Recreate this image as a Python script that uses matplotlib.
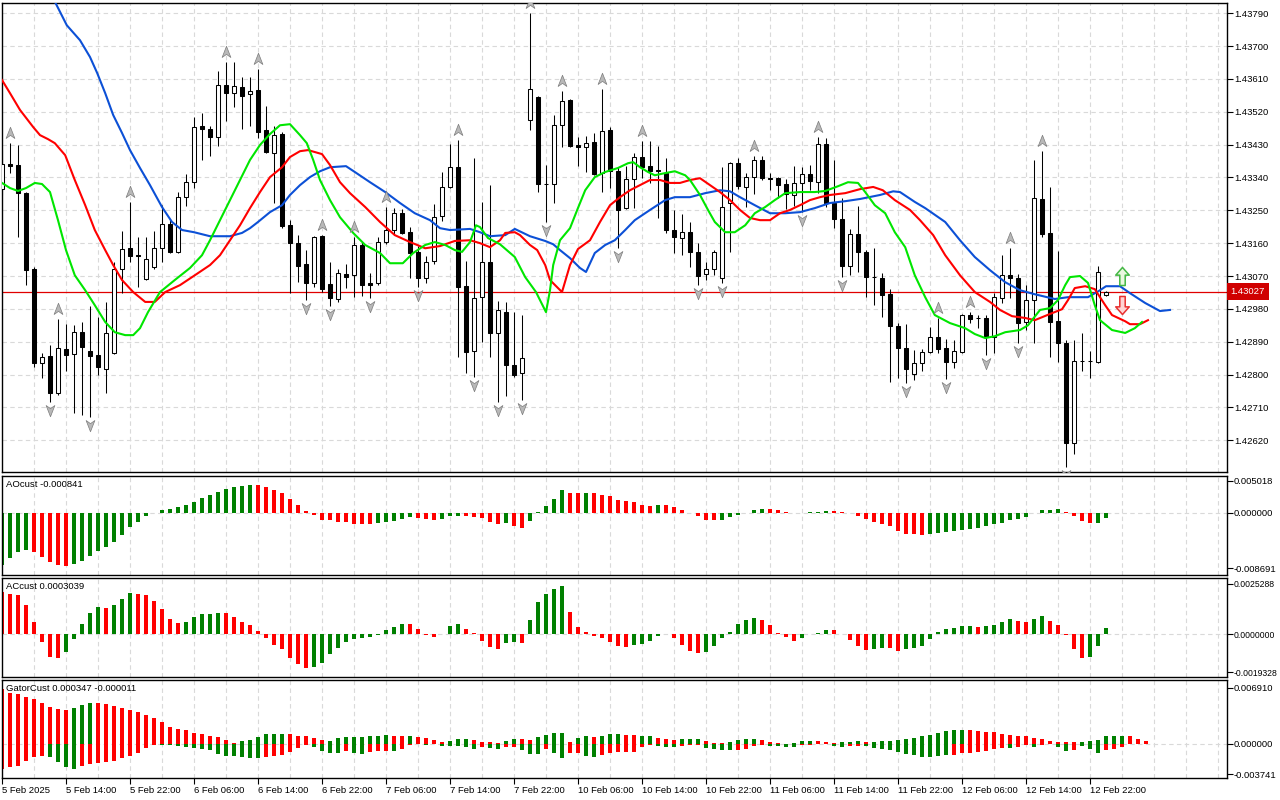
import numpy as np
import matplotlib
matplotlib.use("Agg")
import matplotlib.pyplot as plt
from matplotlib.path import Path

# hourly bars, prices in points (1 point = 0.00001)
opens = [
    143308, 143376, 143374, 143297, 143089, 142831, 142851, 142749, 142870, 142856,
    142916, 142864, 142853, 142815, 142859, 143089, 143146, 143128, 143062, 143094,
    143146, 143212, 143136, 143286, 143327, 143481, 143473, 143451, 143593, 143571,
    143588, 143568, 143579, 143470, 143407, 143459, 143209, 143160, 143103, 143051,
    143179, 143048, 143007, 143075, 143072, 143155, 143051, 143051, 143163, 143196,
    143242, 143190, 143136, 143064, 143111, 143234, 143314, 143368, 143042, 142864,
    143012, 143108, 142914, 142971, 142826, 142804, 143497, 143560, 143323, 143322,
    143483, 143552, 143429, 143423, 143437, 143352, 143470, 143357, 143256, 143336,
    143396, 143371, 143361, 143352, 143196, 143174, 143190, 143136, 143075, 143089,
    143064, 143270, 143379, 143314, 143341, 143388, 143339, 143338, 143322, 143292,
    143325, 143349, 143327, 143431, 143270, 143226, 143097, 143185, 143136, 143068,
    143064, 143020, 142933, 142872, 142801, 142831, 142862, 142903, 142872, 142834,
    142862, 142963, 142956, 142955, 142903, 143009, 143072, 143064, 142944, 143004,
    143281, 143188, 142946, 142886, 142612, 142838, 142836, 142834, 143018]
highs = [
    143415, 143434, 143429, 143300, 143094, 142859, 142881, 142952, 142938, 142935,
    142944, 142988, 142957, 142999, 143108, 143193, 143273, 143177, 143177, 143193,
    143264, 143226, 143300, 143349, 143505, 143516, 143481, 143631, 143656, 143656,
    143615, 143615, 143637, 143536, 143481, 143464, 143223, 143182, 143141, 143180,
    143182, 143108, 143089, 143103, 143177, 143163, 143078, 143177, 143259, 143256,
    143253, 143204, 143152, 143125, 143267, 143355, 143431, 143442, 143111, 143393,
    143273, 143319, 143001, 142999, 142971, 142963, 143790, 143563, 143374, 143511,
    143577, 143555, 143451, 143453, 143462, 143582, 143478, 143368, 143371, 143407,
    143440, 143440, 143426, 143393, 143251, 143240, 143218, 143160, 143108, 143141,
    143368, 143382, 143393, 143352, 143399, 143399, 143352, 143340, 143336, 143371,
    143368, 143374, 143451, 143448, 143388, 143283, 143199, 143262, 143141, 143146,
    143078, 143034, 142941, 142938, 142867, 142870, 142930, 142955, 142897, 142894,
    142966, 142971, 142963, 142963, 143023, 143127, 143146, 143075, 143045, 143388,
    143412, 143314, 143138, 142894, 142894, 142914, 142864, 143097, 143030]
lows = [
    143292, 143352, 143177, 143045, 142820, 142790, 142725, 142745, 142809, 142694,
    142689, 142683, 142798, 142749, 142855, 143023, 143108, 143040, 143059, 143089,
    143108, 143133, 143133, 143262, 143311, 143388, 143399, 143426, 143494, 143533,
    143473, 143481, 143448, 143407, 143270, 143201, 143023, 143053, 143004, 143040,
    143026, 142988, 142999, 143037, 143012, 143015, 143009, 143045, 143157, 143182,
    143185, 143064, 143040, 143051, 143103, 143220, 143310, 142848, 142804, 142793,
    142889, 142848, 142725, 142741, 142793, 142730, 143470, 143300, 143218, 143270,
    143423, 143423, 143371, 143355, 143346, 143300, 143311, 143146, 143253, 143256,
    143338, 143325, 143229, 143188, 143133, 143127, 143094, 143045, 143059, 143072,
    143051, 143136, 143308, 143259, 143294, 143333, 143305, 143283, 143253, 143262,
    143245, 143305, 143297, 143259, 143201, 143067, 143072, 143081, 143012, 142990,
    142957, 142779, 142790, 142777, 142785, 142809, 142859, 142859, 142788, 142818,
    142859, 142941, 142927, 142853, 142859, 142996, 143009, 142886, 142922, 142886,
    143177, 142848, 142834, 142546, 142582, 142809, 142790, 142831, 143016]
closes = [
    143377, 143372, 143297, 143086, 142831, 142848, 142749, 142872, 142853, 142916,
    142875, 142851, 142820, 142914, 143089, 143144, 143125, 143126, 143116, 143146,
    143212, 143136, 143286, 143327, 143478, 143473, 143451, 143593, 143571, 143590,
    143563, 143577, 143464, 143410, 143456, 143207, 143160, 143097, 143051, 143177,
    143034, 143009, 143078, 143067, 143155, 143045, 143045, 143163, 143196, 143242,
    143188, 143133, 143064, 143108, 143231, 143314, 143368, 143040, 142862, 143009,
    143108, 142914, 142977, 142826, 142798, 142845, 143582, 143322, 143321, 143483,
    143549, 143426, 143423, 143434, 143349, 143467, 143357, 143251, 143336, 143396,
    143368, 143357, 143359, 143196, 143177, 143190, 143136, 143070, 143089, 143136,
    143259, 143379, 143316, 143341, 143388, 143338, 143337, 143319, 143294, 143325,
    143349, 143330, 143431, 143270, 143226, 143097, 143185, 143136, 143067, 143066,
    143018, 142933, 142872, 142815, 142831, 142862, 142903, 142870, 142834, 142864,
    142963, 142952, 142954, 142903, 143012, 143072, 143064, 142941, 143004, 143283,
    143185, 142944, 142886, 142612, 142837, 142836, 142838, 143081, 143027]

# alligator lines: bar position, price in points
jaw_x = [6.0, 8.1, 9.75, 11.0, 11.9, 12.9, 13.9, 15.0, 16.0, 17.25, 18.5, 20.0, 21.25,
         22.5, 24.0, 26.0, 28.5, 30.0, 31.0, 32.0, 33.5, 35.0, 36.0, 37.25, 38.5, 39.75,
         41.0, 43.0, 44.1, 46.0, 47.9, 49.75, 51.6, 53.5, 54.75, 56.0, 58.5, 59.75, 61.0,
         62.9, 64.1, 66.0, 67.9, 68.9, 69.75, 71.0, 72.25, 73.0, 74.1, 75.4, 76.6, 77.9,
         79.1, 81.0, 82.9, 84.1, 86.0, 87.9, 89.75, 91.0, 92.25, 94.1, 96.0, 97.9, 99.75,
         101.6, 103.5, 105.4, 107.25, 109.75, 111.4, 112.25, 114.1, 115.4, 117.9, 119.75,
         121.6, 123.5, 125.4, 127.25, 129.1, 131.6, 133.25, 135.75, 137.25, 138.0, 139.75,
         141.0, 142.9, 144.75, 146.0]
jaw_y = [143848, 143757, 143716, 143670, 143626, 143571, 143511, 143462, 143415, 143366,
         143319, 143259, 143218, 143196, 143190, 143179, 143179, 143188, 143201, 143218,
         143245, 143264, 143292, 143319, 143341, 143357, 143368, 143371, 143355, 143327,
         143300, 143270, 143242, 143223, 143201, 143196, 143199, 143190, 143179, 143182,
         143199, 143179, 143166, 143157, 143141, 143119, 143092, 143081, 143133, 143155,
         143168, 143196, 143223, 143251, 143278, 143286, 143286, 143297, 143305, 143302,
         143286, 143264, 143242, 143242, 143245, 143256, 143270, 143275, 143281, 143292,
         143302, 143300, 143273, 143256, 143218, 143168, 143122, 143086, 143053, 143031,
         143020, 143007, 143012, 143012, 143031, 143042, 143042, 143023, 142996, 142974,
         142977]
teeth_x = [0.0, 1.0, 2.25, 3.9, 4.75, 5.75, 6.6, 7.9, 9.1, 10.4, 11.6, 12.9, 13.9, 15.0,
           16.4, 17.9, 19.1, 20.4, 22.25, 24.1, 26.0, 27.25, 28.5, 29.75, 31.0, 32.25,
           33.5, 35.0, 36.0, 37.25, 38.25, 40.0, 41.0, 42.25, 43.5, 45.4, 47.25, 49.1,
           51.0, 52.9, 54.75, 56.6, 58.5, 59.75, 61.0, 62.25, 62.9, 64.1, 64.75, 66.0,
           66.9, 67.9, 68.5, 70.0, 71.0, 72.0, 73.5, 74.75, 76.0, 77.25, 78.5, 79.75,
           81.0, 82.25, 83.5, 84.75, 86.0, 87.25, 88.5, 89.75, 91.0, 92.25, 93.5, 94.75,
           96.0, 97.25, 98.5, 99.75, 101.0, 102.25, 103.5, 105.4, 107.25, 108.9, 110.1,
           111.6, 113.5, 114.75, 116.4, 117.9, 119.75, 121.6, 123.5, 124.75, 126.25,
           127.9, 129.1, 131.0, 132.5, 133.25, 134.1, 135.4, 136.6, 137.9, 138.75, 140.4,
           141.0, 142.25, 143.25]
teeth_y = [143607, 143571, 143525, 143478, 143456, 143445, 143434, 143401, 143333, 143264,
           143196, 143141, 143100, 143059, 143026, 142999, 142999, 143026, 143045, 143072,
           143100, 143127, 143168, 143209, 143256, 143300, 143341, 143368, 143396, 143412,
           143415, 143404, 143374, 143327, 143297, 143259, 143218, 143182, 143163, 143146,
           143152, 143166, 143168, 143160, 143149, 143168, 143188, 143190, 143182, 143155,
           143141, 143100, 143059, 143026, 143100, 143144, 143168, 143218, 143264, 143286,
           143305, 143319, 143333, 143333, 143325, 143325, 143333, 143338, 143319, 143300,
           143278, 143251, 143229, 143223, 143223, 143242, 143251, 143264, 143278, 143286,
           143292, 143297, 143308, 143314, 143305, 143278, 143251, 143223, 143182, 143127,
           143072, 143026, 142999, 142977, 142960, 142955, 142949, 142966, 142979, 143004,
           143037, 143042, 143034, 142990, 142963, 142946, 142938, 142938, 142949]
lips_x = [0.0, 1.0, 2.0, 3.0, 4.1, 5.0, 6.0, 7.0, 8.0, 9.1, 10.4, 11.6, 12.9, 14.1, 15.4,
          16.4, 17.25, 18.25, 19.75, 21.6, 23.5, 25.0, 26.0, 27.25, 28.5, 29.75, 31.0,
          32.25, 33.5, 34.75, 36.0, 37.25, 38.1, 38.9, 39.75, 41.0, 42.25, 43.9, 45.4,
          47.25, 48.5, 50.1, 51.4, 52.9, 54.1, 55.4, 56.6, 57.5, 58.5, 59.25, 59.75,
          60.75, 62.25, 64.1, 65.4, 66.75, 68.0, 68.5, 68.9, 69.75, 71.0, 71.9, 72.9,
          74.1, 75.4, 77.0, 78.25, 78.9, 79.75, 80.75, 81.6, 82.9, 84.1, 85.4, 86.0,
          87.25, 88.25, 89.1, 90.4, 91.6, 92.9, 94.1, 95.4, 96.6, 97.9, 99.75, 101.6,
          102.9, 104.5, 105.75, 107.0, 107.9, 109.1, 110.4, 111.6, 112.9, 114.1, 115.4,
          116.6, 118.5, 120.4, 121.6, 122.9, 124.1, 125.4, 127.25, 128.25, 129.75, 131.0,
          132.0, 132.9, 133.5, 134.75, 135.75, 136.6, 137.25, 138.75, 140.4, 141.6, 142.5]
lips_y = [143325, 143311, 143303, 143311, 143325, 143322, 143300, 143223, 143141, 143072,
          143031, 142990, 142944, 142916, 142908, 142908, 142927, 142971, 143026, 143059,
          143092, 143127, 143168, 143223, 143278, 143333, 143388, 143429, 143459, 143483,
          143486, 143456, 143434, 143388, 143333, 143278, 143231, 143188, 143155, 143133,
          143105, 143105, 143133, 143155, 143163, 143155, 143141, 143136, 143163, 143209,
          143204, 143174, 143157, 143122, 143067, 143026, 142971, 143031, 143100, 143168,
          143201, 143251, 143305, 143341, 143355, 143366, 143379, 143382, 143368, 143355,
          143346, 143352, 143357, 143346, 143333, 143292, 143251, 143218, 143190, 143190,
          143209, 143242, 143259, 143278, 143297, 143300, 143300, 143303, 143316, 143327,
          143325, 143300, 143264, 143242, 143190, 143149, 143072, 143012, 142963, 142941,
          142927, 142911, 142900, 142905, 142916, 142922, 142935, 142977, 142982, 143004,
          143045, 143067, 143070, 143051, 142990, 142949, 142922, 142914, 142927, 142944]

# fractal bars and the last signal
fractal_up = [1, 7, 16, 28, 32, 40, 44, 48, 57, 66, 70, 75, 80, 94, 102, 117, 121, 126, 130]
fractal_dn = [6, 11, 38, 41, 46, 52, 59, 62, 65, 68, 77, 87, 90, 100, 105, 113, 118, 123,
              127, 133]
signal_bar = 140
signal_buy = 143070
signal_sell = 142990
bid = 143027

# oscillators in millionths
ao = [-8184, -7045, -6112, -5853, -6112, -6889, -7666, -8184, -8288, -8081,
      -7511, -6734, -5957, -5335, -4558, -3471, -2227, -1450, -518, -52,
      518, 540, 881, 1295, 1761, 2331, 2849, 3315, 3781, 4144,
      4248, 4403, 4351, 4144, 3626, 3108, 2176, 1295, 363, -259,
      -1036, -1088, -1450, -1470, -1709, -1730, -1761, -1658, -1450, -1295,
      -932, -673, -829, -932, -1088, -932, -518, -414, -518, -570,
      -829, -1450, -1709, -1658, -2072, -2383, -1191, 104, 1140, 2176,
      3626, 3160, 3108, 3170, 3110, 2849, 2590, 2072, 1813, 1658,
      1295, 1140, 1295, 1243, 984, 518, -52, -518, -1036, -1088,
      -1036, -673, -363, 52, 518, 673, 622, 466, 104, -52,
      52, 155, 207, 311, 259, 104, -52, -414, -932, -1450,
      -1813, -2072, -2849, -3263, -3367, -3471, -3367, -3160, -3056, -2901,
      -2745, -2538, -2331, -2072, -1813, -1554, -1036, -932, -570, -52,
      466, 518, 673, 207, -414, -1295, -1606, -1554, -841]
ao_colors = ("GGGG" "RRRRR" "GGGGGGGGGGGGGGGGGGGGGGG" "RRRRRRRRRRRRRRR" "GGGGG" "RRR"
             "GGG" "RRRRR" "G" "RR" "GGGGG" "RR" "G" "RRRRRRRR" "G" "RRRRRRR" "GGGGGG"
             "RRRR" "GGGG" "RRRRRRRRRRRR" "GGGGGGGGGGGGGGGGG" "RRRR" "GG")
ac = [2100, 2016, 1966, 1462, 605, -386, -1142, -1193, -890, -235,
      504, 1075, 1361, 1310, 1462, 1764, 2066, 2016, 1966, 1663,
      1260, 773, 554, 605, 874, 991, 1008, 1058, 1050, 857,
      605, 454, 151, -185, -554, -756, -1193, -1512, -1697, -1646,
      -1462, -1008, -689, -386, -269, -218, -134, -34, 218, 353,
      504, 496, 269, -67, -134, -17, 403, 504, 269, 50,
      -336, -638, -739, -437, -403, -437, 706, 1613, 2016, 2251,
      2419, 1109, 353, 84, -101, -185, -386, -588, -638, -538,
      -487, -336, -84, -17, -218, -538, -857, -941, -890, -588,
      -185, 118, 504, 722, 806, 722, 454, 34, -168, -336,
      -218, 17, 67, 202, 185, -17, -319, -588, -790, -773,
      -706, -722, -840, -756, -722, -588, -235, 101, 235, 319,
      403, 420, 353, 403, 454, 588, 756, 672, 605, 756,
      907, 672, 454, -67, -756, -1193, -1142, -588, 304]
ac_colors = ("RRRRRRRR" "GGGGG" "R" "GGG" "RRRRRR" "GGGGG" "RRRRRRRRRRR" "GGGGGGGGGGGG"
             "RRRR" "GGG" "RRRRR" "GG" "R" "GGGGG" "RRRRRRRR" "GGGGG" "RRRR" "GGGGGGG"
             "RRRRR" "GGGG" "RRRRR" "GG" "RR" "GGGGGGGGG" "R" "GGGG" "RR" "GG" "RRRRR"
             "GGG")
gator_up = [6691, 6202, 6161, 5753, 5467, 5059, 4529, 4243, 4162, 4406,
            4774, 5018, 5010, 4896, 4610, 4406, 4121, 3917, 3509, 3182,
            2693, 2122, 1877, 1673, 1387, 1265, 979, 857, 490, 163,
            367, 530, 898, 1183, 1190, 1200, 1180, 979, 970, 734,
            490, 367, 734, 816, 857, 870, 979, 990, 1102, 979,
            970, 980, 857, 775, 490, 245, 408, 571, 653, 490,
            245, 240, 82, 367, 653, 571, 530, 857, 1142, 1387,
            1400, 286, 734, 979, 898, 1020, 1224, 1265, 1142, 1061,
            979, 990, 775, 612, 490, 612, 653, 660, 367, 122,
            110, 245, 490, 571, 612, 490, 245, 82, 41, 163,
            326, 367, 326, 245, 163, 204, 286, 367, 286, 300,
            330, 367, 490, 653, 775, 979, 1142, 1346, 1550, 1714,
            1754, 1673, 1550, 1510, 1469, 1265, 1142, 1020, 979, 775,
            571, 367, 245, 204, 200, 286, 408, 490, 979, 990,
            1000, 979, 653, 347]
gator_up_colors = ("RRRRRRRRR" "GGG" "RRRRRRRRRRRRRRRRRR" "GGGGGG" "RRRRR" "GGGGGGGG"
                   "RR" "G" "RRRR" "GGG" "RRRR" "GG" "RR" "GGGG" "R" "GG" "R" "GGG" "RR"
                   "GG" "RRR" "GGG" "RRR" "GGGG" "RRRR" "GGG" "RRR" "GGG" "R"
                   "GGGGGGGGGGGG" "RRRRRRRRRRRRRR" "GGGGGG" "RRR")
gator_dn = [-3101, -2774, -2693, -2081, -1550, -1469, -1560, -2162, -2774, -3019,
            -2693, -2448, -2285, -2270, -2081, -1673, -1469, -1061, -449, -82,
            -122, -150, -245, -326, -490, -571, -775, -1183, -1469, -1480,
            -1550, -1754, -1760, -1550, -1469, -1306, -979, -490, -163, -326,
            -816, -1061, -1070, -898, -1061, -1183, -979, -857, -850, -860,
            -653, -163, -41, -122, -41, -286, -290, -300, -310, -571,
            -326, -449, -571, -326, -320, -775, -1183, -1224, -571, -1061,
            -1673, -1061, -1050, -1469, -1550, -1346, -1061, -979, -970, -938,
            -326, -163, -245, -367, -370, -245, -122, -120, -449, -571,
            -694, -775, -734, -571, -245, -122, -245, -250, -326, -367,
            -163, -82, -41, -35, -204, -326, -286, -245, -260, -449,
            -571, -734, -979, -1183, -1346, -1550, -1560, -1469, -1387, -1346,
            -1061, -1050, -979, -857, -653, -490, -500, -326, -163, -326,
            -163, -41, -367, -898, -775, -245, -571, -1061, -734, -653,
            -326, -11]
gator_dn_colors = ("RRRRRR" "GGGG" "RRRRRRRRRR" "GGGGGGGGGGGGG" "RRRRRR" "GGGG" "R" "GG"
                   "RRR" "G" "RRR" "G" "R" "GGGGG" "R" "GG" "RR" "GGG" "R" "GG" "RR" "GG"
                   "RRRRRRR" "GGG" "RRR" "GGGG" "RRRR" "GGGG" "RRRR" "GG" "RR"
                   "GGGGGGGGGGG" "RRRRRRR" "G" "RR" "G" "RR" "GG" "R" "GGG" "RRRR")

price_ticks = [1.42620, 1.42710, 1.42800, 1.42890, 1.42980, 1.43070, 1.43160,
               1.43250, 1.43340, 1.43430, 1.43520, 1.43610, 1.43700, 1.43790]
time_pos = [0, 8, 16, 24, 32, 40, 48, 56, 64, 72, 80, 88, 96, 104, 112, 120, 128, 136]
time_labels = ["5 Feb 2025", "5 Feb 14:00", "5 Feb 22:00", "6 Feb 06:00", "6 Feb 14:00",
               "6 Feb 22:00", "7 Feb 06:00", "7 Feb 14:00", "7 Feb 22:00", "10 Feb 06:00",
               "10 Feb 14:00", "10 Feb 22:00", "11 Feb 06:00", "11 Feb 14:00",
               "11 Feb 22:00", "12 Feb 06:00", "12 Feb 14:00", "12 Feb 22:00"]

PT = 1e-5
MU = 1e-6
o = np.array(opens) * PT
h = np.array(highs) * PT
l = np.array(lows) * PT
c = np.array(closes) * PT
bars = np.arange(len(o))

FS = 6.8
plt.rcParams['font.family'] = ['Liberation Sans', 'DejaVu Sans']
plt.rcParams['font.size'] = FS

W, H = 1280, 800
fig = plt.figure(figsize=(W / 100, H / 100), dpi=100)


def panel(top, bottom):
    return fig.add_axes([2 / W, 1 - bottom / H, 1225 / W, (bottom - top) / H])


ax = panel(3, 472)
ax_ao = panel(476, 575)
ax_ac = panel(578, 677)
ax_gt = panel(680, 778)

XMAX = 1225 / 8
GRID = dict(color='#d9d9d9', linestyle=(0, (4, 3)), linewidth=0.8)
COLS = {'G': '#008000', 'R': '#ff0000'}

for a in (ax, ax_ao, ax_ac, ax_gt):
    a.set_xlim(0, XMAX)
    for s in a.spines.values():
        s.set_color('black')
        s.set_linewidth(1)
    a.yaxis.tick_right()
    a.tick_params(axis='y', direction='out', length=4, width=0.8, pad=1.5, labelsize=FS)
    a.set_xticks([])
    for gx in np.arange(4, XMAX, 4):
        a.axvline(gx, zorder=0, **GRID)

# price panel
ax.set_ylim(1.42533, 1.43818)
ax.set_yticks(price_ticks)
ax.set_yticklabels([f"{v:.5f}" for v in price_ticks])
for p in price_ticks:
    ax.axhline(p, zorder=0, **GRID)

ax.axhline(bid * PT, color='#e00000', lw=0.9, zorder=2.5)
ax.annotate(f"{bid * PT:.5f}", xy=(1, bid * PT), xycoords=('axes fraction', 'data'),
            xytext=(2.5, 0), textcoords='offset points', va='center', ha='left',
            color='white', fontsize=FS, annotation_clip=False,
            bbox=dict(boxstyle='square,pad=0.4', fc='#d00000', ec='none'))

ax.vlines(bars, l, h, color='black', linewidth=0.75, zorder=3)
bull = c >= o
ax.bar(bars, np.maximum(np.abs(c - o), 1e-7), bottom=np.minimum(o, c), width=0.55,
       color=np.where(bull, 'white', 'black'), edgecolor='black', linewidth=0.75,
       zorder=3.5)

ax.plot(jaw_x, np.array(jaw_y) * PT, color='#0c50d6', lw=1.5, zorder=4)
ax.plot(teeth_x, np.array(teeth_y) * PT, color='#ff0000', lw=1.5, zorder=4.1)
ax.plot(lips_x, np.array(lips_y) * PT, color='#00e600', lw=1.5, zorder=4.2)

head_up = Path([(0, 1), (0.7, -0.8), (0, -0.3), (-0.7, -0.8), (0, 1)],
               [Path.MOVETO, Path.LINETO, Path.LINETO, Path.LINETO, Path.CLOSEPOLY])
head_dn = Path([(0, -1), (0.7, 0.8), (0, 0.3), (-0.7, 0.8), (0, -1)],
               [Path.MOVETO, Path.LINETO, Path.LINETO, Path.LINETO, Path.CLOSEPOLY])
ax.plot(fractal_up, h[fractal_up] + 0.00027, ls='none', marker=head_up, ms=9,
        mfc='#b8b8b8', mec='#7c7c7c', mew=0.5, zorder=5)
ax.plot(fractal_dn, l[fractal_dn] - 0.00022, ls='none', marker=head_dn, ms=9,
        mfc='#b8b8b8', mec='#7c7c7c', mew=0.5, zorder=5)

block = [(-0.3, -1), (0.3, -1), (0.3, 0.15), (0.75, 0.15), (0, 1), (-0.75, 0.15),
         (-0.3, 0.15), (-0.3, -1)]
codes = [Path.MOVETO] + [Path.LINETO] * 6 + [Path.CLOSEPOLY]
block_up = Path(block, codes)
block_dn = Path([(x, -y) for x, y in block], codes)
ax.plot([signal_bar], [signal_buy * PT], ls='none', marker=block_up, ms=13,
        mfc='#eaf8df', mec='#45b845', mew=1.1, zorder=6)
ax.plot([signal_bar], [signal_sell * PT], ls='none', marker=block_dn, ms=13,
        mfc='#ffd4d4', mec='#e83030', mew=1.1, zorder=6)


# oscillator panels
def osc(a, values, colors, ylim, ticks, fmt, title, tick_fs=FS):
    v = np.array(values) * MU
    a.bar(np.arange(len(v)), v, width=0.6, color=[COLS[k] for k in colors],
          linewidth=0, zorder=2)
    a.axhline(0, zorder=1, **GRID)
    a.set_ylim(*ylim)
    a.set_yticks(ticks)
    a.set_yticklabels([fmt.format(t) for t in ticks])
    a.tick_params(axis='y', labelsize=tick_fs, pad=1)
    hpx = a.get_position().height * H
    a.text(0.0033, 1 - 8.7 / hpx, title, transform=a.transAxes, va='center',
           ha='left', fontsize=FS, color='black')


osc(ax_ao, ao, ao_colors, (-0.00975, 0.0058), [0.005018, 0.0, -0.008691],
    "{:.6f}", "AOcust -0.000841")
osc(ax_ac, ac, ac_colors, (-0.00217, 0.00283), [0.0025288, 0.0, -0.0019328],
    "{:.7f}", "ACcust 0.0003039", tick_fs=6.2)
osc(ax_gt, gator_up, gator_up_colors, (-0.00417, 0.00784), [0.00691, 0.0, -0.003741],
    "{:.6f}", "GatorCust 0.000347 -0.000011")
ax_gt.bar(np.arange(len(gator_dn)), np.array(gator_dn) * MU, width=0.6,
          color=[COLS[k] for k in gator_dn_colors], linewidth=0, zorder=2)

ax_gt.set_xticks(time_pos)
ax_gt.set_xticklabels(time_labels, ha='left')
ax_gt.tick_params(axis='x', direction='out', length=4, width=0.8, pad=2,
                  labelsize=FS, labelbottom=True)

fig.savefig("out.png", dpi=100)
